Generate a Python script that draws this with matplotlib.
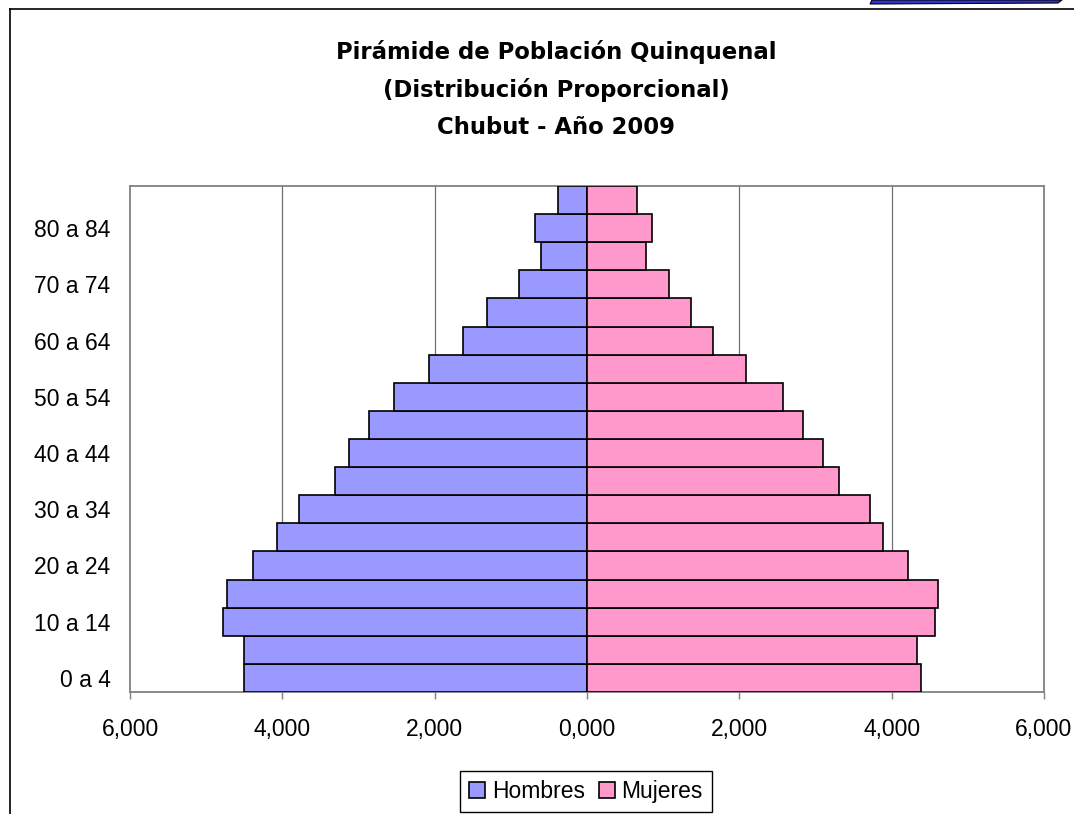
import matplotlib
matplotlib.use("Agg")
import matplotlib.pyplot as plt
from matplotlib.lines import Line2D
from matplotlib.patches import Polygon
import numpy as np

plt.rcParams['font.family'] = ['Liberation Sans', 'DejaVu Sans']

age_groups = ["0 a 4", "5 a 9", "10 a 14", "15 a 19", "20 a 24", "25 a 29",
              "30 a 34", "35 a 39", "40 a 44", "45 a 49", "50 a 54", "55 a 59",
              "60 a 64", "65 a 69", "70 a 74", "75 a 79", "80 a 84", "85 y más"]
hombres = [4.508, 4.508, 4.775, 4.723, 4.384, 4.072, 3.785, 3.309, 3.127,
           2.866, 2.534, 2.078, 1.623, 1.307, 0.895, 0.605, 0.680, 0.386]
mujeres = [4.386, 4.333, 4.563, 4.610, 4.215, 3.880, 3.710, 3.303, 3.100,
           2.837, 2.567, 2.090, 1.656, 1.364, 1.073, 0.777, 0.857, 0.658]
x_ticks = [-6, -4, -2, 0, 2, 4, 6]
title_lines = ["Pirámide de Población Quinquenal",
               "(Distribución Proporcional)",
               "Chubut - Año 2009"]

W, H = 1074, 814
fig = plt.figure(figsize=(W / 100, H / 100), dpi=100)
ax = fig.add_axes([130 / W, 1 - 692 / H, (1044 - 130) / W, (692 - 186) / H])

y = np.arange(len(age_groups))
ax.barh(y, [-v for v in hombres], height=1.0, color="#9999FF",
        edgecolor="black", linewidth=1.2, label="Hombres", zorder=3)
ax.barh(y, mujeres, height=1.0, color="#FF99CC",
        edgecolor="black", linewidth=1.2, label="Mujeres", zorder=3)

ax.set_xlim(-6, 6)
ax.set_ylim(-0.5, len(age_groups) - 0.5)
ax.set_xticks(x_ticks)
ax.set_xticklabels([f"{abs(v):.3f}".replace(".", ",") for v in x_ticks])
ax.set_yticks(y[::2])
ax.set_yticklabels(age_groups[::2])

for gx in [-4, -2, 2, 4]:
    ax.axvline(gx, color="#707070", linewidth=0.9, zorder=1)

for s in ax.spines.values():
    s.set_color("#808080")
    s.set_linewidth(1.3)

ax.tick_params(axis="x", length=5, width=1, color="#808080", pad=14,
               labelsize=16.5, direction="out")
ax.tick_params(axis="y", length=0, pad=14, labelsize=16.5)

# title: three bold lines; fit first line to the reference width
title_texts = []
for i, t in enumerate(title_lines):
    title_texts.append(fig.text(556 / W, 1 - (52 + 38 * i) / H, t,
                                ha="center", va="center", fontsize=16.5,
                                fontweight="bold",
                                family=["DejaVu Sans"]))
fig.canvas.draw()
r = fig.canvas.get_renderer()
w0 = title_texts[0].get_window_extent(r).width
fs = 16.5 * 441.0 / w0
for tt in title_texts:
    tt.set_fontsize(fs)

fig.legend(loc="upper center", bbox_to_anchor=(586 / W, 1 - 771 / H),
           ncol=2, fontsize=16.5, frameon=True, fancybox=False,
           edgecolor="black", handlelength=0.7, handleheight=0.7,
           handletextpad=0.3, columnspacing=0.6, borderpad=0.4,
           borderaxespad=0.0, framealpha=1)

# outer chart frame (top and left, cropped elsewhere)
fig.add_artist(Line2D([10 / W, 1.0], [1 - 9 / H, 1 - 9 / H],
                      transform=fig.transFigure, color="black", linewidth=1.2))
fig.add_artist(Line2D([10 / W, 10 / W], [1 - 9 / H, 0.0],
                      transform=fig.transFigure, color="black", linewidth=1.2))
# cropped decoration at top right
fig.add_artist(Polygon([[870 / W, 1 - 4 / H], [1058 / W, 1 - 3 / H],
                        [1062 / W, 1.0], [872 / W, 1.0]],
                       closed=True, transform=fig.transFigure,
                       facecolor="#3333CC", edgecolor="black", linewidth=0.8))

fig.savefig("out.png", dpi=100)
